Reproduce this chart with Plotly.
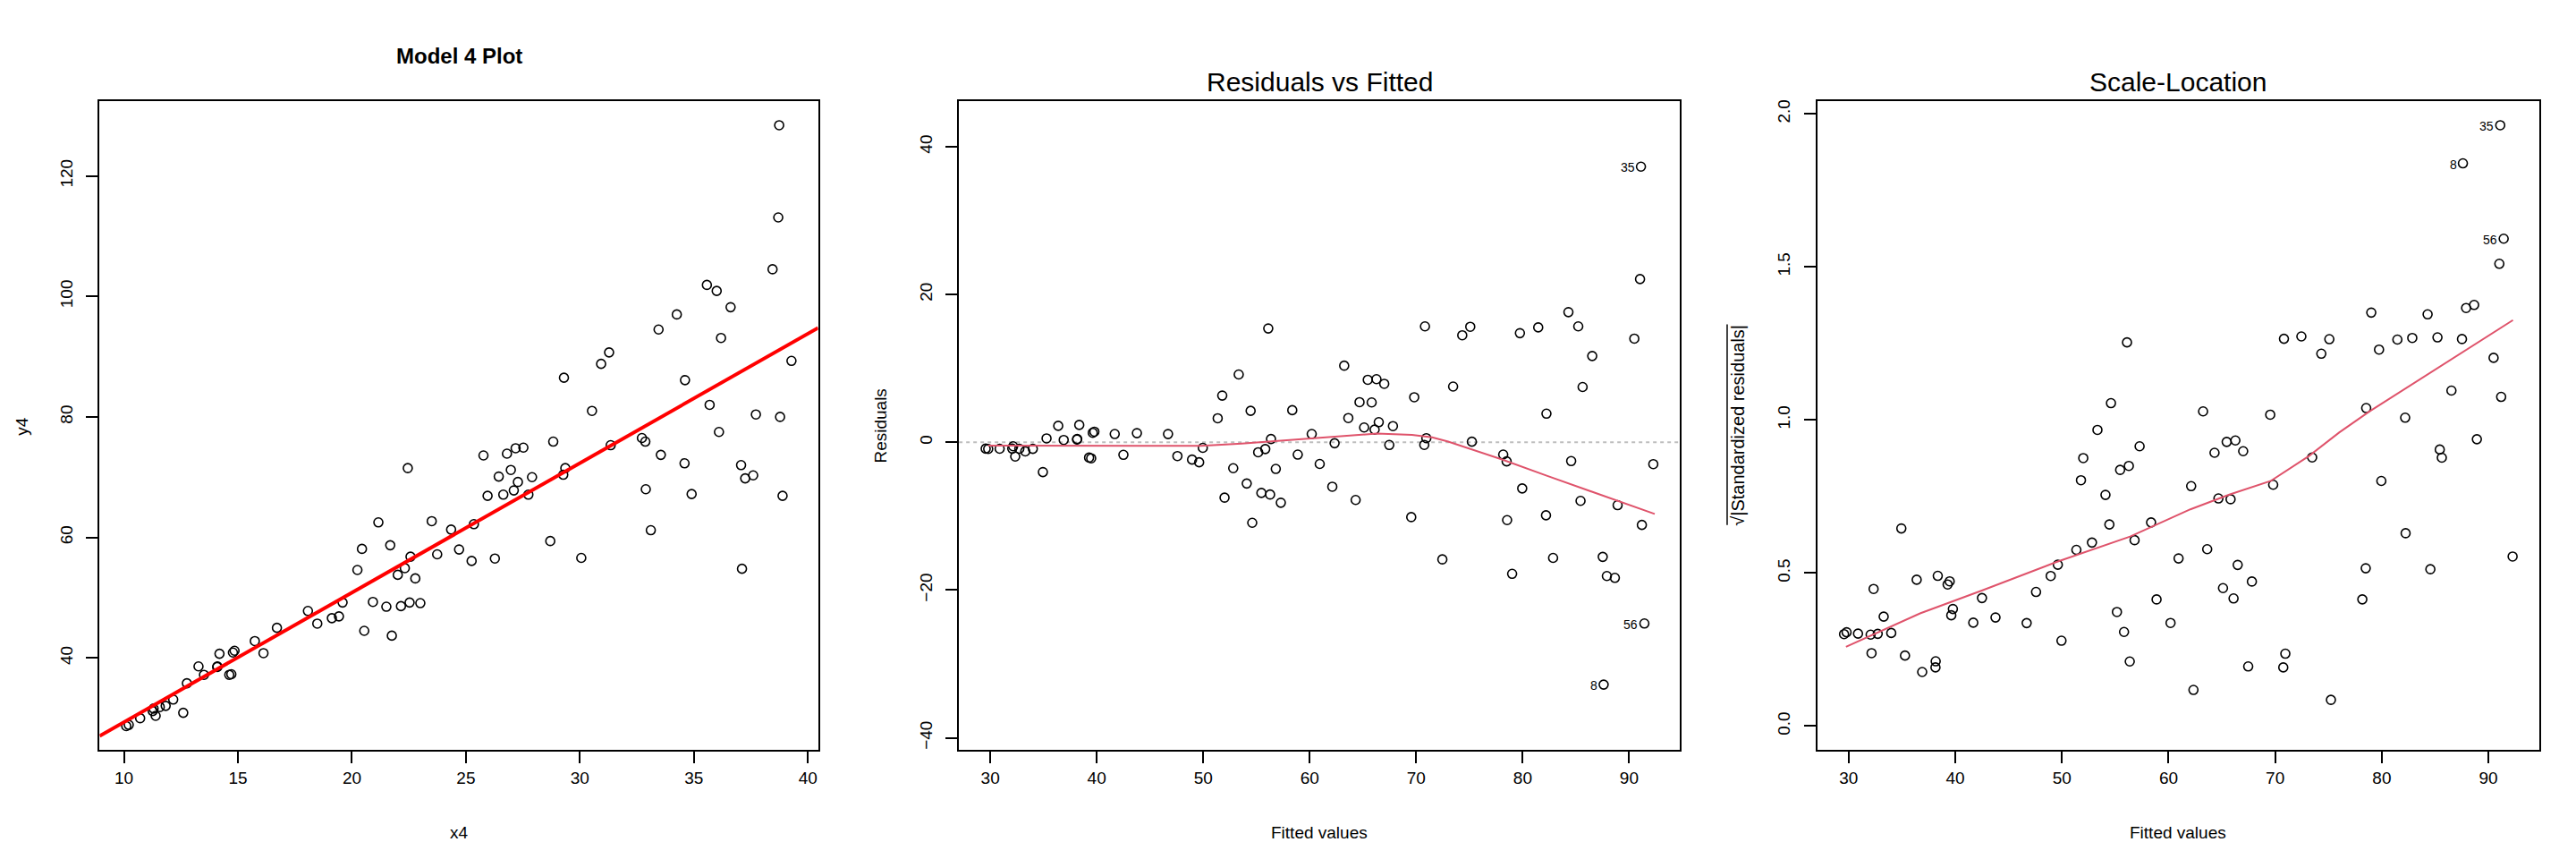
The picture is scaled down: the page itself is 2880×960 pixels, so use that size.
import numpy as np
import plotly.graph_objects as go

x4 = [10.10, 10.21, 10.71, 11.26, 11.30, 11.39, 11.57, 11.83, 12.16, 12.60,
      12.76, 13.27, 13.51, 14.09, 14.10, 14.19, 14.62, 14.71, 14.78, 14.85,
      15.74, 16.12, 16.71, 18.07, 18.48, 19.12, 19.43, 19.59, 20.24, 20.44,
      20.54, 20.92, 21.16, 21.51, 21.68, 21.75, 22.01, 22.15, 22.32, 22.45,
      22.53, 22.57, 22.78, 23.00, 23.50, 23.74, 24.35, 24.70, 25.25, 25.35,
      25.77, 25.95, 26.27, 26.44, 26.64, 26.80, 26.97, 27.10, 27.18, 27.28,
      27.52, 27.74, 27.90, 28.70, 28.83, 29.27, 29.30, 29.36, 30.06, 30.53,
      30.93, 31.28, 31.35, 32.72, 32.87, 32.89, 33.11, 33.45, 33.55, 34.25,
      34.59, 34.61, 34.90, 35.57, 35.69, 36.00, 36.10, 36.19, 36.61, 37.07,
      37.11, 37.25, 37.60, 37.72, 38.45, 38.70, 38.74, 38.78, 38.89, 39.28]
y4 = [28.7, 28.9, 30.0, 31.2, 31.6, 30.4, 31.85, 32.05, 33.1, 30.9,
      35.8, 38.6, 37.2, 38.5, 38.6, 40.7, 37.2, 37.3, 40.9, 41.2,
      42.8, 40.8, 45.0, 47.8, 45.7, 46.6, 46.9, 49.2, 54.6, 58.1,
      44.5, 49.3, 62.5, 48.5, 58.7, 43.7, 53.8, 48.6, 54.9, 71.5,
      49.2, 56.8, 53.2, 49.1, 62.7, 57.2, 61.3, 58.0, 56.1, 62.2,
      73.6, 66.9, 56.5, 70.1, 67.1, 73.9, 71.2, 67.8, 74.8, 69.2,
      74.9, 67.1, 70.0, 59.4, 75.9, 70.4, 86.5, 71.5, 56.6, 81.0,
      88.8, 90.7, 75.3, 76.5, 75.9, 68.0, 61.2, 94.5, 73.7, 97.0,
      72.3, 86.1, 67.2, 101.9, 82.0, 100.9, 77.5, 93.1, 98.2, 72.0,
      54.8, 69.8, 70.3, 80.4, 104.5, 113.1, 128.4, 80.0, 66.9, 89.3]

# observation ids of the 3 largest |residuals|, largest first
outlier_ids = ["35", "8", "56"]

# lowess smooths
lowess_res_x = [29.8, 39.4, 49.8, 53.6, 57.1, 61.25, 66.3, 69.6, 71.5, 73.0, 78.0, 82.2, 86.7, 92.4]
lowess_res_y = [-0.45, -0.5, -0.5, -0.2, 0.17, 0.69, 1.17, 1.0, 0.65, 0.08, -2.3, -4.5, -6.8, -9.7]
lowess_sl_x = [29.75, 36.7, 42.6, 49.5, 56.4, 62.05, 65.7, 69.6, 73.2, 76.0, 78.8, 81.6, 85.5, 92.3]
lowess_sl_y = [0.259, 0.368, 0.444, 0.536, 0.619, 0.708, 0.756, 0.801, 0.883, 0.959, 1.027, 1.089, 1.176, 1.326]

# linear model y4 ~ x4
x = np.array(x4)
y = np.array(y4)
n = len(x)
slope, icept = np.polyfit(x, y, 1)
fitted = icept + slope * x
resid = y - fitted
s = np.sqrt(np.sum(resid ** 2) / (n - 2))
hat = 1 / n + (x - x.mean()) ** 2 / np.sum((x - x.mean()) ** 2)
std_res = resid / (s * np.sqrt(1 - hat))
sqrt_abs = np.sqrt(np.abs(std_res))
top = np.argsort(-np.abs(resid))[:3]


def ext(lo, hi, f=0.04):
    d = (hi - lo) * f
    return [lo - d, hi + d]


FONT = "Liberation Sans, Arial, Helvetica, sans-serif"
BLACK = "#000000"
LOWESS = "#DF536B"
pt = dict(symbol="circle-open", size=10, color=BLACK, line=dict(width=1.6, color=BLACK))

fig = go.Figure()

# panel 1: scatter + fitted line
fig.add_trace(go.Scatter(x=x4, y=y4, mode="markers", marker=pt, xaxis="x", yaxis="y"))
xr1 = ext(x.min(), x.max())
fig.add_trace(go.Scatter(x=xr1, y=[icept + slope * v for v in xr1], mode="lines",
                         line=dict(color="#FF0000", width=4), xaxis="x", yaxis="y"))

# panel 2: residuals vs fitted
fig.add_trace(go.Scatter(x=fitted, y=resid, mode="markers", marker=pt, xaxis="x2", yaxis="y2"))
fig.add_trace(go.Scatter(x=lowess_res_x, y=lowess_res_y, mode="lines", line=dict(color=LOWESS, width=2),
                         xaxis="x2", yaxis="y2"))

# panel 3: scale-location
fig.add_trace(go.Scatter(x=fitted, y=sqrt_abs, mode="markers", marker=pt, xaxis="x3", yaxis="y3"))
fig.add_trace(go.Scatter(x=lowess_sl_x, y=lowess_sl_y, mode="lines", line=dict(color=LOWESS, width=2),
                         xaxis="x3", yaxis="y3"))

ydom = [0.1354, 0.8924]
xdoms = [[0.0359, 0.3148], [0.3695, 0.6494], [0.7027, 0.9830]]

axis_style = dict(showline=True, linewidth=2, linecolor=BLACK, mirror=True, ticks="outside",
                  ticklen=13, tickwidth=2, tickcolor=BLACK, showgrid=False, zeroline=False,
                  tickfont=dict(family=FONT, size=19, color=BLACK))

r_lim = ext(resid.min(), resid.max(), 0.08)
sl_top = sqrt_abs.max()
fig.update_layout(
    width=2880, height=960, margin=dict(l=0, r=0, t=0, b=0),
    paper_bgcolor="white", plot_bgcolor="white", showlegend=False,
    font=dict(family=FONT, color=BLACK),
    xaxis=dict(domain=xdoms[0], range=xr1, tickvals=[10, 15, 20, 25, 30, 35, 40], anchor="y", **axis_style),
    yaxis=dict(domain=ydom, range=ext(y.min(), y.max()), tickvals=[40, 60, 80, 100, 120], tickangle=-90,
               ticklabelstandoff=8, anchor="x", **axis_style),
    xaxis2=dict(domain=xdoms[1], range=ext(fitted.min(), fitted.max()), tickvals=[30, 40, 50, 60, 70, 80, 90],
                anchor="y2", **axis_style),
    yaxis2=dict(domain=ydom, range=ext(r_lim[0], r_lim[1]), tickvals=[-40, -20, 0, 20, 40], tickangle=-90,
                ticklabelstandoff=8, anchor="x2", **axis_style),
    xaxis3=dict(domain=xdoms[2], range=ext(fitted.min(), fitted.max()), tickvals=[30, 40, 50, 60, 70, 80, 90],
                anchor="y3", **axis_style),
    yaxis3=dict(domain=ydom, range=ext(0, sl_top), tickvals=[0, 0.5, 1, 1.5, 2],
                ticktext=["0.0", "0.5", "1.0", "1.5", "2.0"], tickangle=-90,
                ticklabelstandoff=8, anchor="x3", **axis_style),
)

# dotted zero line in residual panel
fig.add_shape(type="line", xref="x2 domain", yref="y2", x0=0, x1=1, y0=0, y1=0,
              line=dict(color="#BEBEBE", width=2, dash="4px,4px"), layer="below")

ann = []
# titles
ann.append(dict(text="<b>Model 4 Plot</b>", x=sum(xdoms[0]) / 2, y=0.9448, font=dict(size=24)))
ann.append(dict(text="Residuals vs Fitted", x=sum(xdoms[1]) / 2, y=0.9146, font=dict(size=30)))
ann.append(dict(text="Scale-Location", x=sum(xdoms[2]) / 2, y=0.9146, font=dict(size=30)))
# axis labels
for xd, lab in zip(xdoms, ["x4", "Fitted values", "Fitted values"]):
    ann.append(dict(text=lab, x=sum(xd) / 2, y=0.0396, font=dict(size=19)))
ymid = sum(ydom) / 2
ann.append(dict(text="y4", x=0.0059, y=ymid, textangle=-90, font=dict(size=19)))
ann.append(dict(text="Residuals", x=0.3392, y=ymid, textangle=-90, font=dict(size=19)))
ann.append(dict(text="√|Standardized residuals|", x=0.6719, y=ymid, textangle=-90, font=dict(size=20)))
for a in ann:
    a.update(xref="paper", yref="paper", showarrow=False, xanchor="center", yanchor="middle")
    a["font"].update(family=FONT, color=BLACK)

# overbar of the square-root sign
fig.add_shape(type="line", xref="paper", yref="paper", x0=0.6677, x1=0.6677, y0=0.398, y1=0.632,
              line=dict(color=BLACK, width=1.5))

# id labels of the largest residuals
for k, i in enumerate(top):
    for xa, ya, yy in [("x2", "y2", resid[i]), ("x3", "y3", sqrt_abs[i])]:
        ann.append(dict(text=outlier_ids[k], x=fitted[i], y=yy, xref=xa, yref=ya, showarrow=False,
                        xanchor="right", yanchor="middle", xshift=-5, yshift=-1,
                        font=dict(family=FONT, size=14, color=BLACK)))

fig.update_layout(annotations=ann)
fig.write_html("out.html")
